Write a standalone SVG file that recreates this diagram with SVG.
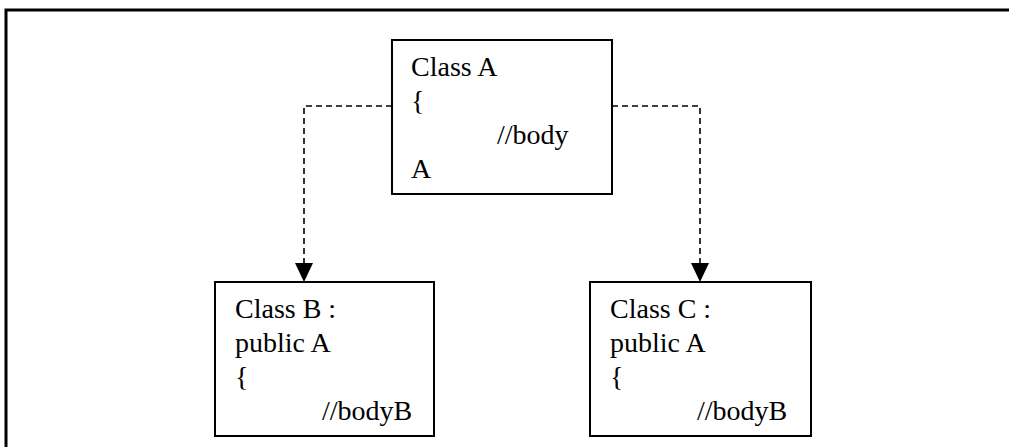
<svg xmlns="http://www.w3.org/2000/svg" width="1009" height="447" viewBox="0 0 1009 447">
<style>
.box{fill:#fff;stroke:#000;stroke-width:2}
.t{font-family:'Liberation Serif','Times New Roman',Times,'DejaVu Serif',serif;font-size:28px;fill:#000}
.dash{fill:none;stroke:#000;stroke-width:1.6;stroke-dasharray:6 4}
</style>
<rect x="0" y="0" width="1009" height="447" fill="#fff"/>
<rect x="6" y="10" width="1100" height="500" fill="none" stroke="#000" stroke-width="3"/>
<g id="connectors">
<path class="dash" d="M392,106 H304 V263"/>
<path d="M295,263 L313,263 L304,282 Z" fill="#000"/>
<path class="dash" d="M612,106 H700 V263"/>
<path d="M691,263 L709,263 L700,282 Z" fill="#000"/>
</g>
<g id="classA">
<rect class="box" x="392" y="40" width="220" height="154"/>
<text class="t" x="411" y="76">Class A</text>
<text class="t" x="411" y="110">{</text>
<text class="t" x="497" y="144">//body</text>
<text class="t" x="411" y="178">A</text>
</g>
<g id="classB">
<rect class="box" x="215" y="282" width="219" height="154"/>
<text class="t" x="235" y="318">Class B :</text>
<text class="t" x="235" y="352">public A</text>
<text class="t" x="235" y="386">{</text>
<text class="t" x="322" y="420">//bodyB</text>
</g>
<g id="classC">
<rect class="box" x="590" y="282" width="221" height="154"/>
<text class="t" x="610" y="318">Class C :</text>
<text class="t" x="610" y="352">public A</text>
<text class="t" x="610" y="386">{</text>
<text class="t" x="697" y="420">//bodyB</text>
</g>
</svg>
